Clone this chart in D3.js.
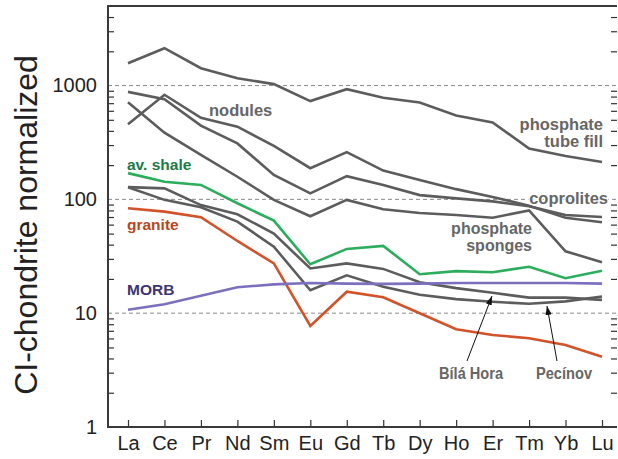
<!DOCTYPE html>
<html><head><meta charset="utf-8">
<script src="https://cdn.jsdelivr.net/npm/d3@7"></script>
<style>
html,body{margin:0;padding:0;background:#fff;}
text{font-family:"Liberation Sans",Arial,sans-serif;}
</style></head>
<body>
<svg id="chart" width="618" height="459"></svg>
<script>
// ---- data ----
const elements = ["La","Ce","Pr","Nd","Sm","Eu","Gd","Tb","Dy","Ho","Er","Tm","Yb","Lu"];
const yTickLabels = [1, 10, 100, 1000];
const tubeFill   = [1570,2130,1420,1160,1030,730,930,780,710,545,475,280,240,213];
const nodules    = [457,830,520,435,295,188,260,179,148,123,105,88,69,63];
const coprolites = [880,760,445,310,164,113,160,134,109,102,96,87,73,70];
const sponges    = [713,385,246,158,99,71,99,82,76,73,69,80,35,28];
const bilaHora   = [128,125,89,74,50,24.7,27.4,24.5,18.7,16.6,15.1,13.7,13.7,13.1];
const pecinov    = [128,99,85.3,63.7,38.4,15.9,21.5,17.1,14.5,13.3,12.6,12.1,12.7,14.0];
const avShale    = [170,143,134,92.4,65,26.9,36.7,39,22,23.4,22.9,25.6,20.3,23.6];
const granite    = [83.5,78,69.6,43.1,27.4,7.72,15.45,13.8,10.0,7.22,6.43,6.02,5.26,4.15];
const morb       = [10.7,12.0,14.2,16.9,17.9,18.4,18.2,18.1,18.2,18.4,18.4,18.4,18.4,18.2];

// ---- layout ----
const L = 108, R = 617, T = 6, B = 427;
const svg = d3.select("#chart");
const x = d3.scalePoint().domain(elements).range([128, 602]);
const y = d3.scaleLog().domain([1, 5000]).range([B, T]);

const grey = "#5c5c5c";
const series = [
  {v: tubeFill, c: grey}, {v: nodules, c: grey}, {v: coprolites, c: grey},
  {v: sponges, c: grey}, {v: bilaHora, c: grey}, {v: pecinov, c: grey},
  {v: avShale, c: "#2bad5c"}, {v: granite, c: "#d2522a"}, {v: morb, c: "#7b70be"}
];

// minor tick values
const minor = [];
for (let d = 1; d <= 1000; d *= 10) for (let k = 2; k <= 9; k++) { if (d*k < 5000) minor.push(d*k); }

// gridlines
svg.append("g").selectAll("line").data([10,100,1000]).join("line")
  .attr("x1", L).attr("x2", R).attr("y1", d => y(d)).attr("y2", d => y(d))
  .attr("stroke", "#8a8a8a").attr("stroke-width", 1).attr("stroke-dasharray", "4,3");

// left minor ticks (inward)
const gl = svg.append("g").attr("transform", `translate(${L},0)`)
  .call(d3.axisRight(y).tickValues(minor).tickSize(6).tickFormat(""));
gl.select(".domain").remove();
gl.selectAll("line").attr("stroke", "#333").attr("stroke-width", 1.2);
// left labels
const gll = svg.append("g").attr("transform", `translate(${L},0)`)
  .call(d3.axisLeft(y).tickValues(yTickLabels).tickSize(0).tickPadding(11).tickFormat(d3.format("d")));
gll.select(".domain").remove();
gll.selectAll("text").attr("font-size", 20).attr("fill", "#222").style("font-family", "Liberation Sans, Arial, sans-serif");

// right minor ticks (inward)
const gr = svg.append("g").attr("transform", `translate(${R},0)`)
  .call(d3.axisLeft(y).tickValues(minor).tickSize(6).tickFormat(""));
gr.select(".domain").remove();
gr.selectAll("line").attr("stroke", "#333").attr("stroke-width", 1.2);

// bottom ticks (inward) and labels
const gb = svg.append("g").attr("transform", `translate(0,${B})`)
  .call(d3.axisTop(x).tickSize(7).tickFormat(""));
gb.select(".domain").remove();
gb.selectAll("line").attr("stroke", "#333").attr("stroke-width", 1.2);
const gbl = svg.append("g").attr("transform", `translate(0,${B})`)
  .call(d3.axisBottom(x).tickSize(0).tickPadding(9));
gbl.select(".domain").remove();
gbl.selectAll("text").attr("font-size", 20).attr("fill", "#222").style("font-family", "Liberation Sans, Arial, sans-serif");

// frame
svg.append("path").attr("d", `M${L},${B}V${T}H${R}`).attr("fill", "none").attr("stroke", "#3a3a3a").attr("stroke-width", 2);
svg.append("line").attr("x1", L-1).attr("x2", R).attr("y1", B).attr("y2", B).attr("stroke", "#3a3a3a").attr("stroke-width", 2);

// lines
const line = d3.line().x((d, i) => x(elements[i])).y(d => y(d));
svg.append("g").selectAll("path").data(series).join("path")
  .attr("d", d => line(d.v)).attr("fill", "none").attr("stroke", d => d.c)
  .attr("stroke-width", 2.6).attr("stroke-linejoin", "miter");

// labels
const lab = (txt, xx, yy, col, size, anchor, halo, len) => {
  const t = svg.append("text").attr("x", xx).attr("y", yy).text(txt)
    .attr("font-size", size).attr("font-weight", "bold").attr("fill", col)
    .attr("text-anchor", anchor || "start");
  if (len) t.attr("textLength", len).attr("lengthAdjust", "spacingAndGlyphs");
  if (halo) t.attr("stroke", "#fff").attr("stroke-width", 3).attr("paint-order", "stroke");
  return t;
};
const lg = "#666";
lab("nodules", 209, 116, lg, 16.5);
lab("phosphate", 603, 130, lg, 16.5, "end");
lab("tube fill", 603, 147, lg, 16.5, "end");
lab("coprolites", 608, 204, lg, 16.5, "end", true);
lab("phosphate", 532, 234, lg, 16, "end");
lab("sponges", 532, 251, lg, 16, "end");
lab("av. shale", 127, 170, "#1b7a45", 15.5);
lab("granite", 127, 230, "#b4481f", 15.5);
lab("MORB", 127, 295, "#3b3670", 15.5);
lab("Bílá Hora", 471, 379, lg, 16.5, "middle", false, 64);
lab("Pecínov", 564, 379, lg, 16.5, "middle", false, 56);

// arrows
const defs = svg.append("defs");
defs.append("marker").attr("id", "ah").attr("viewBox", "0 0 10 10").attr("refX", 10).attr("refY", 5)
  .attr("markerWidth", 9).attr("markerHeight", 9).attr("markerUnits", "userSpaceOnUse").attr("orient", "auto")
  .append("path").attr("d", "M0,1.5L10,5L0,8.5Z").attr("fill", "#111");
svg.append("line").attr("x1", 467).attr("y1", 361).attr("x2", 492).attr("y2", 296)
  .attr("stroke", "#111").attr("stroke-width", 1).attr("marker-end", "url(#ah)");
svg.append("line").attr("x1", 557).attr("y1", 361).attr("x2", 547).attr("y2", 306)
  .attr("stroke", "#111").attr("stroke-width", 1).attr("marker-end", "url(#ah)");

// y title
svg.append("text").attr("transform", "translate(37,225) rotate(-90)").attr("text-anchor", "middle")
  .attr("font-size", 32).attr("fill", "#222").text("CI-chondrite normalized");
</script>
</body></html>
